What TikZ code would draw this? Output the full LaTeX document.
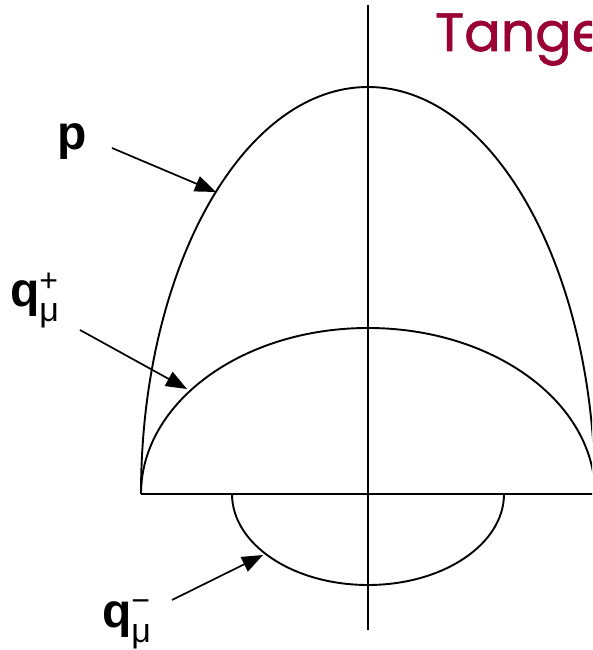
\documentclass[tikz,border=0pt]{standalone}
\usepackage{fontspec}
\setmainfont{Liberation Sans}
\newfontfamily\tangfont[FakeBold=1.2]{Poppins}
\usetikzlibrary{arrows.meta}
\definecolor{tangred}{RGB}{153,0,51}
% label q with sub mu and a sign on top
\newcommand{\qlab}[1]{q\rlap{\raisebox{-15pt}{\fontsize{34}{34}\mdseries μ}}\raisebox{15pt}{\fontsize{32}{32}\mdseries #1}}
\begin{document}
\begin{tikzpicture}[x=1pt,y=1pt,line width=1.9pt,
  every node/.style={inner sep=0pt,outer sep=0pt},
  lab/.style={font=\fontsize{48}{48}\bfseries,anchor=base west},
  pointer/.style={-{Triangle[length=21pt,width=16pt]},line width=1.7pt}]
\clip (0,0) rectangle (592,650);
% axes
\draw (368,20) -- (368,645);
\draw (141,156) -- (600,156);
% the three curves
\draw (141,156) arc[start angle=180,end angle=0,x radius=227,y radius=407];
\draw (141,156) arc[start angle=180,end angle=0,x radius=227,y radius=166];
\draw (232,156) arc[start angle=180,end angle=360,x radius=136,y radius=91];
% labels
\node[lab] (p) at (57,500) {p};
\node[lab] (qplus) at (10,343) {\qlab{+}};
\node[lab] (qminus) at (102,23) {\qlab{−}};
\node[font=\tangfont\fontsize{54}{54}\selectfont,text=tangred,anchor=base west] (tang) at (435,599) {Tangent};
% pointers
\coordinate (pstart) at (112,502);
\coordinate (pend) at (216,458);
\coordinate (qpstart) at (80,320);
\coordinate (qpend) at (187,261);
\coordinate (qmstart) at (172,50);
\coordinate (qmend) at (263,95);
\draw[pointer] (pstart) -- (pend);
\draw[pointer] (qpstart) -- (qpend);
\draw[pointer] (qmstart) -- (qmend);
\end{tikzpicture}
\end{document}
